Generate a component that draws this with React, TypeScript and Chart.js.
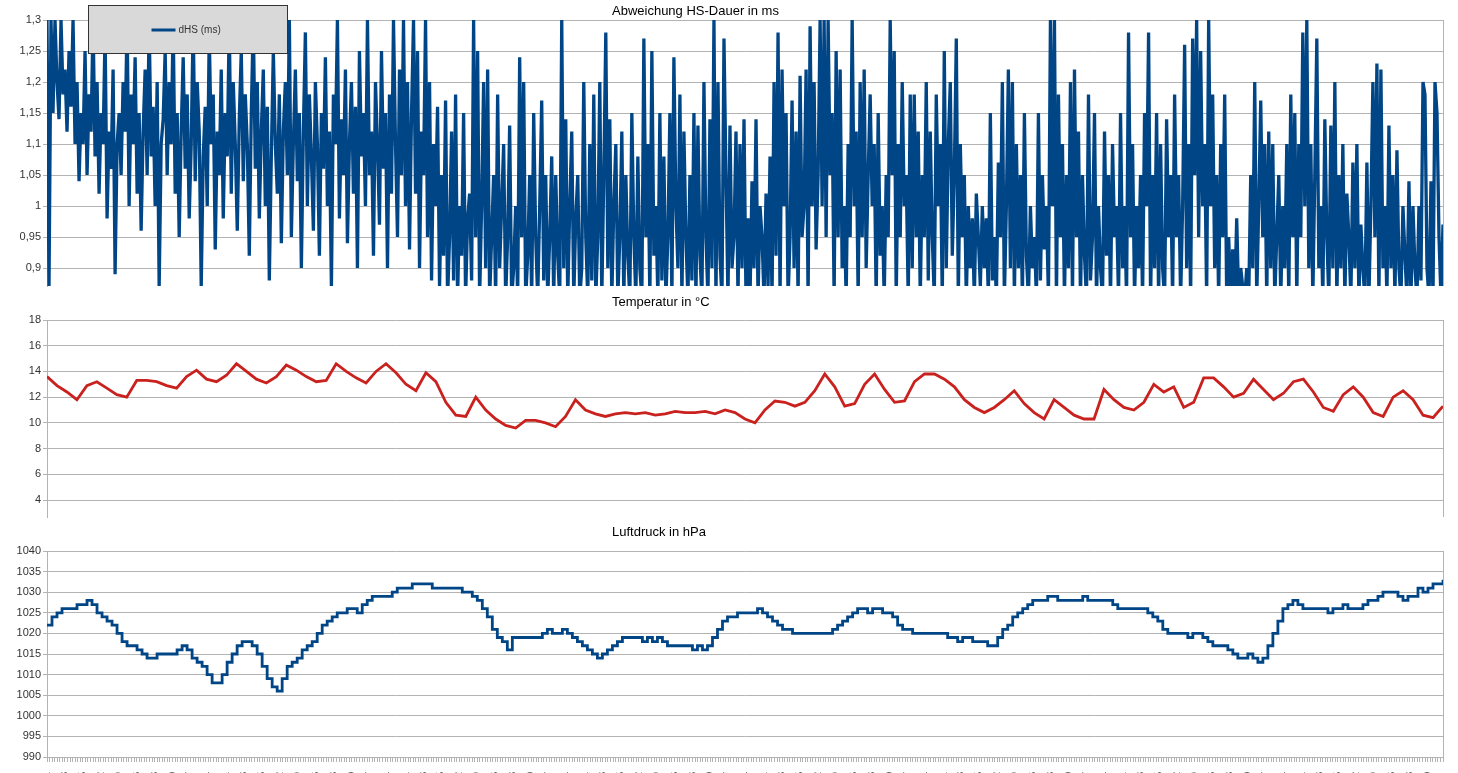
import React, { useEffect, useRef } from "react";
import { Chart, registerables } from "chart.js";

Chart.register(...registerables);

const FONT = '"Liberation Sans", Arial, Helvetica, sans-serif';
const GRID = "#b3b3b3";
const TICK_TEXT = "#333333";
const BLUE = "#004586";
const RED = "#c9211e";

const dhsTitle = "Abweichung HS-Dauer in ms";
const tempTitle = "Temperatur in °C";
const pressTitle = "Luftdruck in hPa";
const dhsLabel = "dHS (ms)";
const tempLabel = "Temperatur (°C)";
const pressLabel = "Luftdruck (hPa)";

const dhsTickValues = [0.9, 0.95, 1, 1.05, 1.1, 1.15, 1.2, 1.25, 1.3];
const tempTickValues = [4, 6, 8, 10, 12, 14, 16, 18];
const pressTickValues = [990, 995, 1000, 1005, 1010, 1015, 1020, 1025, 1030, 1035, 1040];

const rowLabels = [
  "1", "8", "15", "22", "29", "36", "43", "50", "57", "64", "71", "78", "85", "92", "99", "106",
  "113", "120", "127", "134", "141", "148", "155", "162", "169", "176", "183", "190", "197", "204",
  "211", "218", "225", "232", "239", "246", "253", "260", "267", "274", "281", "288", "295", "302",
  "309", "316", "323", "330", "337", "344", "351", "358", "365", "372", "379", "386", "393", "400",
  "407", "414", "421", "428", "435", "442", "449", "456", "463", "470", "477", "484", "491", "498",
  "505", "512", "519", "526", "533", "540",
];

const dhsValues = [
  1.3, 0.87, 1.3, 1.15, 1.3, 1.2, 1.14, 1.3, 1.18, 1.22, 1.12, 1.25, 1.16, 1.3, 1.1, 1.2, 1.04, 1.15, 1.1, 1.25,
  1.05, 1.18, 1.12, 1.3, 1.08, 1.2, 1.02, 1.15, 1.1, 1.28, 0.98, 1.12, 1.06, 1.22, 0.89, 1.1, 1.15, 1.05, 1.2, 1.12,
  1.3, 1.0, 1.18, 1.1, 1.24, 1.02, 1.15, 0.96, 1.12, 1.22, 1.05, 1.3, 1.08, 1.16, 1.0, 1.2, 0.87, 1.1, 1.14, 1.25,
  1.05, 1.2, 1.1, 1.3, 1.02, 1.15, 0.95, 1.12, 1.24, 1.06, 1.18, 0.98, 1.1, 1.3, 1.04, 1.2, 1.12, 0.87, 1.08, 1.16,
  1.0, 1.28, 1.1, 1.18, 0.93, 1.12, 1.05, 1.22, 0.98, 1.15, 1.08, 1.3, 1.02, 1.2, 1.1, 0.96, 1.14, 1.25, 1.04, 1.18,
  1.1, 0.92, 1.15, 1.3, 1.06, 1.2, 0.98, 1.12, 1.22, 1.0, 1.16, 0.88, 1.08, 1.25, 1.1, 1.02, 1.18, 0.94, 1.12, 1.2,
  1.05, 1.3, 0.95, 1.1, 1.22, 1.04, 1.15, 0.9, 1.12, 1.28, 1.0, 1.18, 1.08, 0.96, 1.2, 1.1, 0.92, 1.15, 1.06, 1.24,
  1.0, 1.12, 0.87, 1.18, 1.1, 1.3, 0.98, 1.14, 1.05, 1.22, 0.94, 1.1, 1.2, 1.02, 1.16, 0.9, 1.25, 1.08, 1.15, 1.0,
  1.3, 1.05, 1.12, 0.92, 1.2, 1.1, 0.97, 1.25, 1.06, 1.15, 0.9, 1.18, 1.02, 1.3, 1.1, 0.95, 1.22, 1.05, 1.3, 1.0,
  1.2, 0.93, 1.15, 1.3, 1.02, 1.25, 0.9, 1.12, 1.05, 1.3, 0.95, 1.2, 0.88, 1.1, 1.0, 1.16, 0.87, 1.05, 0.92, 1.17,
  0.85, 0.95, 1.12, 0.88, 1.18, 0.85, 1.0, 0.92, 1.15, 0.85, 0.98, 1.02, 0.88, 1.3, 0.95, 1.25, 0.85, 1.0, 1.2, 0.9,
  1.22, 0.85, 0.95, 1.05, 0.85, 1.18, 0.9, 1.0, 1.1, 0.85, 0.95, 1.13, 0.85, 0.9, 1.0, 0.85, 1.24, 0.95, 1.2, 0.85,
  0.92, 1.05, 0.85, 1.15, 0.95, 0.85, 1.0, 1.17, 0.88, 1.05, 0.85, 0.95, 1.08, 0.85, 1.05, 0.92, 0.85, 1.3, 0.9, 1.14,
  0.85, 1.0, 1.12, 0.85, 0.98, 1.05, 0.85, 0.9, 1.2, 0.95, 0.85, 1.1, 0.88, 1.18, 0.85, 0.95, 1.2, 0.85, 1.05, 1.28,
  0.9, 1.14, 0.85, 1.0, 1.1, 0.85, 0.95, 1.12, 0.85, 1.05, 0.92, 0.85, 1.15, 0.95, 0.85, 1.08, 0.9, 0.85, 1.27, 0.95,
  1.1, 0.85, 1.25, 0.92, 1.0, 0.85, 1.15, 0.88, 1.08, 0.85, 0.95, 1.15, 0.85, 1.24, 1.0, 0.9, 1.18, 0.85, 1.12, 0.95,
  0.85, 1.05, 0.88, 1.15, 0.85, 1.13, 0.92, 0.85, 1.2, 0.95, 0.85, 1.14, 0.9, 1.3, 0.85, 1.2, 0.92, 0.85, 1.27, 1.05,
  0.85, 1.13, 0.9, 0.95, 1.12, 0.85, 1.1, 0.9, 1.14, 0.85, 0.98, 0.85, 1.04, 0.9, 1.14, 0.85, 1.0, 0.95, 0.85, 1.02,
  0.87, 1.08, 0.85, 1.2, 0.92, 1.28, 0.85, 1.22, 1.0, 1.15, 0.85, 0.95, 1.17, 0.9, 1.12, 0.85, 1.21, 0.95, 1.0, 1.22,
  0.85, 1.29, 1.0, 1.2, 0.93, 1.05, 1.3, 1.0, 1.3, 0.95, 1.3, 1.05, 1.15, 0.85, 1.25, 0.95, 1.22, 0.9, 1.0, 0.85,
  1.1, 0.95, 1.3, 1.0, 1.12, 0.85, 1.2, 0.95, 1.22, 0.9, 1.05, 1.18, 1.0, 1.1, 0.85, 1.15, 0.92, 1.0, 0.85, 1.05,
  0.95, 1.3, 1.05, 1.25, 0.85, 1.1, 0.95, 1.2, 1.0, 1.05, 0.85, 1.18, 0.9, 1.18, 0.95, 1.12, 0.85, 1.05, 0.95, 1.2,
  0.88, 1.12, 0.95, 0.85, 1.18, 1.0, 1.1, 0.85, 1.25, 0.9, 1.1, 1.2, 0.92, 1.05, 1.27, 0.85, 1.1, 0.95, 1.05, 0.85,
  1.0, 0.9, 0.98, 0.85, 1.02, 0.95, 0.87, 1.0, 0.9, 0.98, 0.85, 1.15, 0.88, 0.95, 0.85, 1.07, 0.95, 1.2, 0.85, 1.0,
  1.22, 0.9, 1.2, 0.85, 1.1, 0.9, 1.05, 0.85, 1.15, 0.92, 0.85, 1.0, 0.9, 0.95, 0.85, 1.15, 0.88, 1.05, 0.93, 1.0,
  0.85, 1.3, 1.0, 1.3, 0.85, 1.18, 0.95, 1.1, 0.85, 1.05, 0.9, 1.2, 0.85, 1.22, 0.95, 1.12, 0.85, 1.05, 0.92, 0.85,
  1.18, 0.88, 0.95, 1.15, 0.85, 1.0, 0.9, 0.85, 1.12, 0.92, 1.05, 0.85, 1.1, 0.95, 1.0, 0.85, 1.15, 0.9, 1.0, 0.85,
  1.28, 0.95, 1.1, 0.85, 1.0, 0.9, 1.05, 0.85, 1.15, 1.0, 1.28, 0.85, 1.05, 0.9, 1.15, 0.85, 1.1, 0.9, 0.85, 1.14,
  0.95, 1.05, 0.85, 1.18, 0.95, 1.05, 0.85, 1.0, 1.26, 0.9, 1.1, 0.85, 1.27, 1.05, 1.3, 0.95, 1.25, 1.0, 1.1, 0.85,
  1.3, 1.0, 1.18, 0.9, 1.05, 0.85, 1.1, 0.95, 1.18, 0.85, 0.95, 0.85, 0.93, 0.85, 0.98, 0.85, 0.9, 0.87, 0.85, 0.9,
  0.85, 1.05, 0.9, 1.2, 0.85, 1.0, 1.17, 0.95, 1.1, 0.85, 1.12, 0.9, 1.1, 0.85, 0.95, 1.05, 0.85, 1.0, 0.9, 1.1,
  0.85, 1.18, 0.95, 1.15, 0.85, 1.1, 0.95, 1.28, 1.0, 1.3, 0.9, 1.1, 0.85, 1.05, 1.27, 0.9, 1.0, 0.85, 1.14, 0.95,
  0.85, 1.13, 0.9, 1.2, 0.85, 1.05, 0.9, 1.1, 0.85, 1.02, 0.95, 0.85, 1.07, 0.9, 1.1, 0.85, 0.97, 0.9, 0.85, 1.07,
  0.85, 1.0, 1.2, 0.95, 1.23, 0.85, 1.22, 0.9, 1.0, 0.85, 1.13, 0.9, 1.05, 0.85, 1.09, 0.9, 0.85, 1.0, 0.92, 0.85,
  1.04, 0.85, 1.0, 0.9, 0.85, 1.0, 0.88, 1.2, 1.18, 0.9, 0.85, 1.04, 0.85, 1.2, 1.15, 0.95, 0.85, 0.97,
];

const tempValues = [
  13.6, 12.9, 12.4, 11.8, 12.9, 13.2, 12.7, 12.2, 12.0, 13.3,
  13.3, 13.2, 12.9, 12.7, 13.6, 14.1, 13.4, 13.2, 13.7, 14.6,
  14.0, 13.4, 13.1, 13.6, 14.5, 14.1, 13.6, 13.2, 13.3, 14.6,
  14.0, 13.5, 13.1, 14.0, 14.6, 13.9, 13.0, 12.5, 13.9, 13.2,
  11.6, 10.6, 10.5, 12.0, 11.0, 10.3, 9.8, 9.6, 10.2, 10.2,
  10.0, 9.7, 10.5, 11.8, 11.0, 10.7, 10.5, 10.7, 10.8, 10.7,
  10.8, 10.6, 10.7, 10.9, 10.8, 10.8, 10.9, 10.7, 11.0, 10.8,
  10.3, 10.0, 11.0, 11.7, 11.6, 11.3, 11.6, 12.5, 13.8, 12.8,
  11.3, 11.5, 13.0, 13.8, 12.6, 11.6, 11.7, 13.2, 13.8, 13.8,
  13.4, 12.8, 11.8, 11.2, 10.8, 11.2, 11.8, 12.5, 11.5, 10.8,
  10.3, 11.8, 11.2, 10.6, 10.3, 10.3, 12.6, 11.8, 11.2, 11.0,
  11.6, 13.0, 12.4, 12.8, 11.2, 11.6, 13.5, 13.5, 12.8, 12.0,
  12.3, 13.4, 12.6, 11.8, 12.3, 13.2, 13.4, 12.4, 11.2, 10.9,
  12.2, 12.8, 12.0, 10.8, 10.5, 12.0, 12.5, 11.8, 10.6, 10.4,
  11.3,
];

const pressureValues = [
  1022, 1024, 1025, 1026, 1026, 1026, 1027, 1027, 1028, 1027,
  1025, 1024, 1023, 1022, 1020, 1018, 1017, 1017, 1016, 1015,
  1014, 1014, 1015, 1015, 1015, 1015, 1016, 1017, 1016, 1014,
  1013, 1012, 1010, 1008, 1008, 1010, 1013, 1015, 1017, 1018,
  1018, 1017, 1015, 1012, 1009, 1007, 1006, 1009, 1012, 1013,
  1014, 1016, 1017, 1018, 1020, 1022, 1023, 1024, 1025, 1025,
  1026, 1026, 1025, 1027, 1028, 1029, 1029, 1029, 1029, 1030,
  1031, 1031, 1031, 1032, 1032, 1032, 1032, 1031, 1031, 1031,
  1031, 1031, 1031, 1030, 1030, 1029, 1028, 1026, 1024, 1021,
  1019, 1018, 1016, 1019, 1019, 1019, 1019, 1019, 1019, 1020,
  1021, 1020, 1020, 1021, 1020, 1019, 1018, 1017, 1016, 1015,
  1014, 1015, 1016, 1017, 1018, 1019, 1019, 1019, 1019, 1018,
  1019, 1018, 1019, 1018, 1017, 1017, 1017, 1017, 1017, 1016,
  1017, 1016, 1017, 1019, 1021, 1023, 1024, 1024, 1025, 1025,
  1025, 1025, 1026, 1025, 1024, 1023, 1022, 1021, 1021, 1020,
  1020, 1020, 1020, 1020, 1020, 1020, 1020, 1021, 1022, 1023,
  1024, 1025, 1026, 1026, 1025, 1026, 1026, 1025, 1025, 1024,
  1022, 1021, 1021, 1020, 1020, 1020, 1020, 1020, 1020, 1020,
  1019, 1019, 1018, 1019, 1019, 1018, 1018, 1018, 1017, 1017,
  1019, 1021, 1022, 1024, 1025, 1026, 1027, 1028, 1028, 1028,
  1029, 1029, 1028, 1028, 1028, 1028, 1028, 1029, 1028, 1028,
  1028, 1028, 1028, 1027, 1026, 1026, 1026, 1026, 1026, 1026,
  1025, 1024, 1023, 1021, 1020, 1020, 1020, 1020, 1019, 1020,
  1020, 1019, 1018, 1017, 1017, 1017, 1016, 1015, 1014, 1014,
  1015, 1014, 1013, 1014, 1017, 1020, 1023, 1026, 1027, 1028,
  1027, 1026, 1026, 1026, 1026, 1026, 1025, 1026, 1026, 1027,
  1026, 1026, 1026, 1027, 1028, 1028, 1029, 1030, 1030, 1030,
  1029, 1028, 1029, 1029, 1031, 1030, 1031, 1032, 1032, 1033,
];

const MINOR_TICKS = 546;
const LABEL_EVERY = 7;

function fmt(v: number): string {
  return String(Math.round(v * 100) / 100).replace(".", ",");
}

const panelTitle = {
  id: "panelTitle",
  afterDraw(chart: any, _args: any, opts: any) {
    if (!opts || !opts.text) return;
    const { ctx, chartArea } = chart;
    ctx.save();
    ctx.font = `13px ${FONT}`;
    ctx.fillStyle = "#000000";
    ctx.textAlign = "left";
    ctx.textBaseline = "middle";
    ctx.fillText(opts.text, chartArea.left + 565, chartArea.top - opts.offset);
    ctx.restore();
  },
};

const rightFrame = {
  id: "rightFrame",
  beforeDatasetsDraw(chart: any) {
    const { ctx, chartArea: a } = chart;
    ctx.save();
    ctx.strokeStyle = GRID;
    ctx.lineWidth = 1;
    ctx.beginPath();
    const x = Math.round(a.right) + 0.5;
    ctx.moveTo(x, a.top);
    ctx.lineTo(x, a.bottom);
    ctx.stroke();
    ctx.restore();
  },
};

const boxLegend = {
  id: "boxLegend",
  afterDraw(chart: any, _args: any, opts: any) {
    if (!opts || !opts.show) return;
    const { ctx, chartArea: a } = chart;
    const ds = chart.data.datasets[0];
    const bx = a.left + 41.5;
    const by = 5.5;
    ctx.save();
    ctx.fillStyle = "#d9d9d9";
    ctx.fillRect(bx, by, 199, 48);
    ctx.strokeStyle = "#333333";
    ctx.lineWidth = 1;
    ctx.strokeRect(bx, by, 199, 48);
    ctx.strokeStyle = ds.borderColor;
    ctx.lineWidth = 3;
    ctx.beginPath();
    ctx.moveTo(bx + 63, 30);
    ctx.lineTo(bx + 87, 30);
    ctx.stroke();
    ctx.fillStyle = "#333333";
    ctx.font = `10px ${FONT}`;
    ctx.textAlign = "left";
    ctx.textBaseline = "middle";
    ctx.fillText(ds.label, bx + 90, 30);
    ctx.restore();
  },
};

function yAxis(min: number, max: number, ticks: number[]) {
  return {
    min,
    max,
    afterFit: (s: any) => {
      s.width = 47;
      s.paddingTop = 0;
      s.paddingBottom = 0;
    },
    afterBuildTicks: (s: any) => {
      s.ticks = ticks.map((v) => ({ value: v }));
    },
    grid: { color: GRID, lineWidth: 1, tickLength: 4, drawTicks: true },
    border: { display: true, color: GRID, width: 1 },
    ticks: {
      color: TICK_TEXT,
      font: { size: 11, family: FONT },
      padding: 2,
      callback: (v: any) => fmt(Number(v)),
    },
  };
}

function points(values: number[]) {
  return values.map((v, i) => ({ x: i, y: v }));
}

export default function App() {
  const c1 = useRef<HTMLCanvasElement>(null);
  const c2 = useRef<HTMLCanvasElement>(null);
  const c3 = useRef<HTMLCanvasElement>(null);

  useEffect(() => {
    Chart.defaults.font.family = FONT;
    const charts: Chart[] = [];

    charts.push(
      new Chart(c1.current as HTMLCanvasElement, {
        type: "line",
        data: {
          datasets: [
            {
              label: dhsLabel,
              data: points(dhsValues),
              borderColor: BLUE,
              borderWidth: 3.3,
              pointRadius: 0,
              tension: 0,
              borderJoinStyle: "bevel",
              clip: 0,
            } as any,
          ],
        },
        options: {
          responsive: false,
          animation: false,
          layout: { padding: { top: 20, right: 15, bottom: 4, left: 0 } },
          scales: {
            x: { type: "linear", display: false, min: 0, max: dhsValues.length - 1 },
            y: yAxis(0.871, 1.3, dhsTickValues) as any,
          },
          plugins: {
            legend: { display: false },
            tooltip: { enabled: false },
            panelTitle: { text: dhsTitle, offset: 9 },
            boxLegend: { show: true },
          } as any,
        },
        plugins: [panelTitle, rightFrame, boxLegend],
      })
    );

    charts.push(
      new Chart(c2.current as HTMLCanvasElement, {
        type: "line",
        data: {
          datasets: [
            {
              label: tempLabel,
              data: points(tempValues),
              borderColor: RED,
              borderWidth: 2.8,
              pointRadius: 0,
              tension: 0,
              clip: 0,
            } as any,
          ],
        },
        options: {
          responsive: false,
          animation: false,
          layout: { padding: { top: 28, right: 15, bottom: 3, left: 0 } },
          scales: {
            x: { type: "linear", display: false, min: 0, max: tempValues.length - 1 },
            y: yAxis(2.68, 18, tempTickValues) as any,
          },
          plugins: {
            legend: { display: false },
            tooltip: { enabled: false },
            panelTitle: { text: tempTitle, offset: 18 },
          } as any,
        },
        plugins: [panelTitle, rightFrame],
      })
    );

    const pMax = pressureValues.length - 1;
    charts.push(
      new Chart(c3.current as HTMLCanvasElement, {
        type: "line",
        data: {
          datasets: [
            {
              label: pressLabel,
              data: points(pressureValues),
              borderColor: BLUE,
              borderWidth: 2.8,
              pointRadius: 0,
              stepped: true,
              clip: 0,
            } as any,
          ],
        },
        options: {
          responsive: false,
          animation: false,
          layout: { padding: { top: 31, right: 15, bottom: 0, left: 0 } },
          scales: {
            x: {
              type: "linear",
              min: 0,
              max: pMax,
              afterBuildTicks: (s: any) => {
                const t = [];
                for (let i = 0; i < MINOR_TICKS; i++) t.push({ value: (i * pMax) / (MINOR_TICKS - 1) });
                s.ticks = t;
              },
              afterFit: (s: any) => {
                s.height = 63;
                s.paddingLeft = 0;
                s.paddingRight = 0;
              },
              grid: { drawOnChartArea: false, color: GRID, tickLength: 5 },
              border: { display: true, color: GRID, width: 1 },
              ticks: {
                autoSkip: false,
                minRotation: 90,
                maxRotation: 90,
                padding: 10,
                color: TICK_TEXT,
                font: { size: 11, family: FONT },
                callback: (_v: any, i: number) =>
                  i % LABEL_EVERY === 0 ? rowLabels[i / LABEL_EVERY] ?? "" : "",
              },
            } as any,
            y: yAxis(990, 1040, pressTickValues) as any,
          },
          plugins: {
            legend: { display: false },
            tooltip: { enabled: false },
            panelTitle: { text: pressTitle, offset: 19 },
          } as any,
        },
        plugins: [panelTitle, rightFrame],
      })
    );

    return () => {
      charts.forEach((c) => c.destroy());
    };
  }, []);

  const wrap: React.CSSProperties = {
    position: "fixed",
    left: 0,
    top: 0,
    width: 1458,
    height: 773,
    overflow: "hidden",
    background: "#ffffff",
  };
  const abs = (top: number, h: number): React.CSSProperties => ({
    position: "absolute",
    left: 0,
    top,
    width: 1458,
    height: h,
  });

  return (
    <div style={wrap}>
      <canvas ref={c1} width={1458} height={290} style={abs(0, 290)} />
      <canvas ref={c2} width={1458} height={228} style={abs(292, 228)} />
      <canvas ref={c3} width={1458} height={300} style={abs(520, 300)} />
    </div>
  );
}
